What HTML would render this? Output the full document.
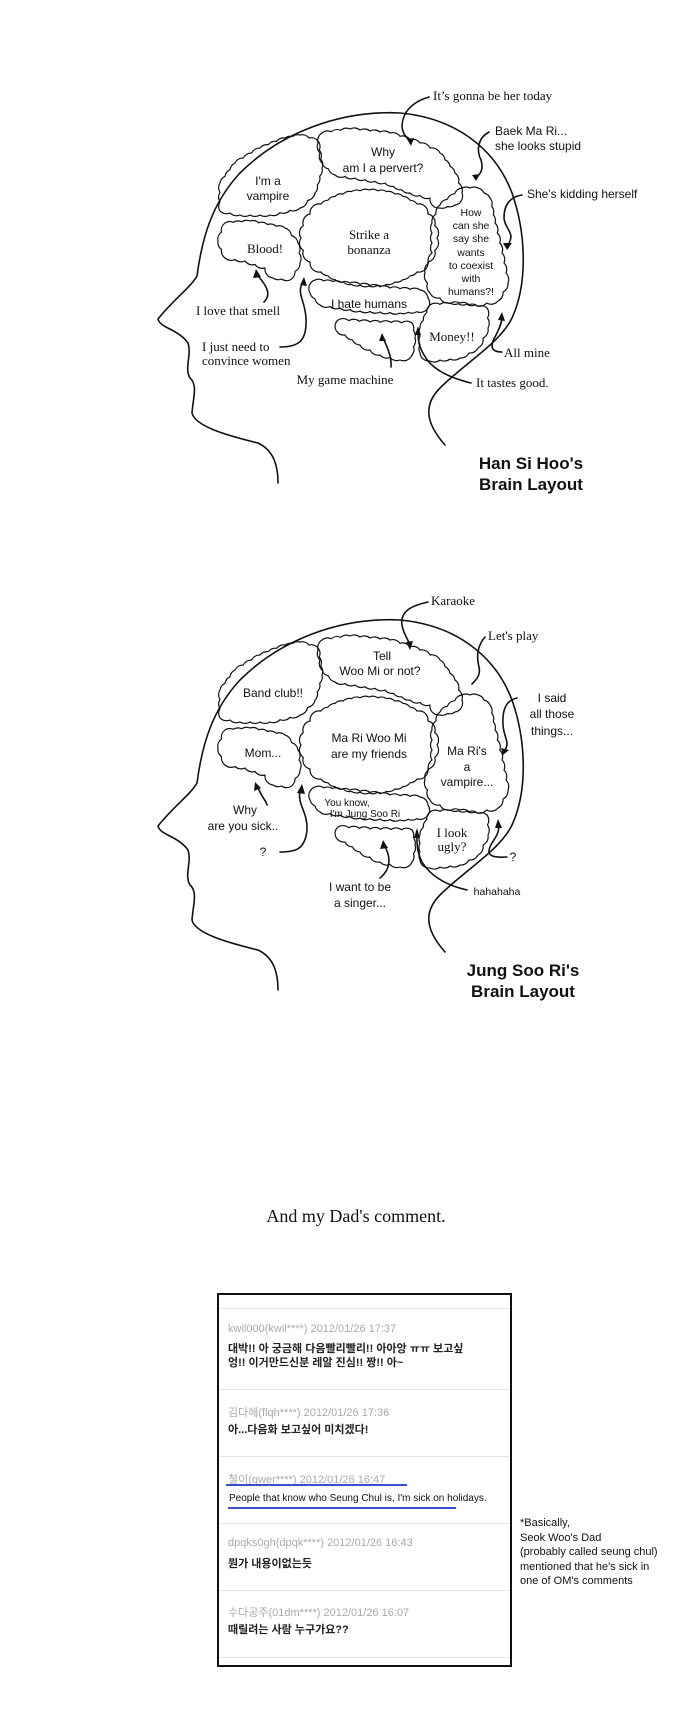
<!DOCTYPE html>
<html><head><meta charset="utf-8"><style>
html,body{margin:0;padding:0;background:#fff;}
body{width:690px;height:1719px;position:relative;overflow:hidden;}
svg{position:absolute;left:0;top:0;}
.s{font-family:"Liberation Serif",serif;font-size:13px;fill:#111;}
.c{font-family:"Liberation Sans",sans-serif;font-size:12px;fill:#111;}
.t{font-family:"Liberation Sans",sans-serif;font-size:17px;font-weight:bold;fill:#111;}
.box{position:absolute;left:217px;top:1293px;width:291px;height:370px;border:2px solid #111;background:#fff;}
.sep{position:absolute;left:0;width:291px;height:1px;background:#e6e6e6;}
.m{position:absolute;left:9px;font-family:"Liberation Sans","Noto Sans CJK KR",sans-serif;font-size:11px;color:#aaa;white-space:nowrap;}
.k{position:absolute;left:9px;font-family:"Liberation Sans","Noto Sans CJK KR",sans-serif;font-size:11px;color:#222;font-weight:bold;white-space:nowrap;line-height:14px;}
.bl{position:absolute;height:2px;background:#3a4fd0;}
.note{position:absolute;left:520px;top:1516px;font-family:"Liberation Sans",sans-serif;font-size:11px;line-height:14.5px;color:#111;white-space:nowrap;}
.cap{position:absolute;left:0;width:712px;text-align:center;top:1206px;font-family:"Liberation Serif",serif;font-size:18px;color:#111;}
</style></head><body>
<svg width="690" height="1719" viewBox="0 0 690 1719" xmlns="http://www.w3.org/2000/svg">
<defs>
<g id="brain" fill="none" stroke="#111" stroke-width="1.6" stroke-linecap="round" stroke-linejoin="round">
<path d="M445,952 C430,935 420,915 440,895 C465,870 500,850 512,825 C528,790 526,740 512,700 C495,655 455,625 400,620 C340,617 280,640 240,680 C212,710 202,745 197,783 C190,795 175,805 158,826 C160,835 178,836 188,850 C192,862 184,875 190,885 C198,892 193,905 192,920 C195,933 225,942 258,950 C275,958 278,975 278,990"/>
<g id="lobes" stroke-width="1.2"></g>
</g>
</defs>
<use href="#brain" transform="translate(0,-507)"/>
<use href="#brain"/>
<g fill="none" stroke="#111" stroke-width="1.6" stroke-linecap="round">
<path d="M428,602 C410,606 400,612 402,625 C404,637 410,640 410,648"/>
<path d="M485,637 C478,645 476,655 479,667 C481,675 476,680 472,684"/>
<path d="M517,698 C507,700 502,708 503,725 C504,738 510,742 505,750"/>
<path d="M267,805 C266,800 260,795 258,787"/>
<path d="M280,852 C295,852 305,850 307,830 C308,812 297,805 300,790"/>
<path d="M380,878 C390,870 392,858 384,845"/>
<path d="M467,890 C445,885 430,875 422,862 C416,850 417,840 417,832"/>
<path d="M507,857 C490,858 485,855 492,843 C498,834 500,830 498,822"/>
<path d="M429,97 C412,102 403,112 402,125 C402,135 408,138 411,143"/>
<path d="M489,132 C478,138 476,150 481,160 C484,170 480,174 476,178"/>
<path d="M522,195 C510,197 504,205 504,218 C505,230 516,232 508,245"/>
<path d="M264,302 C272,294 266,285 258,276"/>
<path d="M280,347 C300,347 307,340 306,318 C305,300 296,293 303,282"/>
<path d="M391,367 C392,358 388,348 383,338"/>
<path d="M471,383 C450,378 432,370 424,355 C418,345 418,338 418,330"/>
<path d="M502,352 C490,352 490,345 496,335 C500,327 502,322 502,317"/>
</g>
<g fill="#111">
<path d="M406,642 L410,650 L413,641 Z"/>
<path d="M501,748 L503,755 L509,750 Z"/>
<path d="M254,791 L255,782 L261,788 Z"/>
<path d="M297,793 L302,784 L305,794 Z"/>
<path d="M380,849 L383,840 L388,848 Z"/>
<path d="M414,838 L417,828 L420,838 Z"/>
<path d="M495,828 L498,819 L502,828 Z"/>
<path d="M407,139 L411,146 L414,138 Z"/><path d="M472,175 L476,181 L480,174 Z"/>
<path d="M503,243 L507,250 L512,243 Z"/><path d="M253,278 L256,269 L261,277 Z"/>
<path d="M300,285 L304,277 L307,286 Z"/><path d="M379,341 L382,333 L386,341 Z"/>
<path d="M415,335 L418,326 L421,335 Z"/><path d="M498,320 L502,312 L505,321 Z"/>
</g>
<text class="s" x="433" y="100">It’s gonna be her today</text>
<text class="c" x="495" y="135">Baek Ma Ri...</text>
<text class="c" x="495" y="150">she looks stupid</text>
<text class="c" x="527" y="198">She's kidding herself</text>
<g text-anchor="middle">
<text class="c" x="383" y="156">Why</text>
<text class="c" x="383" y="172">am I a pervert?</text>
<text class="c" x="268" y="185">I'm a</text>
<text class="c" x="268" y="200">vampire</text>
<text class="s" x="369" y="239">Strike a</text>
<text class="s" x="369" y="254">bonanza</text>
<text class="s" x="265" y="253">Blood!</text>
<text class="c" style="font-size:10.5px" x="471" y="216">How</text>
<text class="c" style="font-size:10.5px" x="471" y="229">can she</text>
<text class="c" style="font-size:10.5px" x="471" y="242">say she</text>
<text class="c" style="font-size:10.5px" x="471" y="256">wants</text>
<text class="c" style="font-size:10.5px" x="471" y="269">to coexist</text>
<text class="c" style="font-size:10.5px" x="471" y="282">with</text>
<text class="c" style="font-size:10.5px" x="471" y="295">humans?!</text>
<text class="c" x="369" y="308">I hate humans</text>
<text class="s" x="452" y="341">Money!!</text>
<text class="s" x="238" y="315">I love that smell</text>
<text class="s" x="345" y="384">My game machine</text>
<text class="t" x="531" y="469">Han Si Hoo's</text>
<text class="t" x="531" y="490">Brain Layout</text>
</g>
<text class="s" x="202" y="351">I just need to</text>
<text class="s" x="202" y="365">convince women</text>
<text class="s" x="504" y="357">All mine</text>
<text class="s" x="476" y="387">It tastes good.</text>
<text class="s" x="431" y="605">Karaoke</text>
<text class="s" x="488" y="640">Let's play</text>
<g text-anchor="middle">
<text class="c" x="382" y="660">Tell</text>
<text class="c" x="380" y="675">Woo Mi or not?</text>
<text class="c" x="273" y="697">Band club!!</text>
<text class="c" x="369" y="742">Ma Ri Woo Mi</text>
<text class="c" x="369" y="758">are my friends</text>
<text class="c" x="263" y="757">Mom...</text>
<text class="c" x="467" y="755">Ma Ri's</text>
<text class="c" x="467" y="771">a</text>
<text class="c" x="467" y="786">vampire...</text>
<text class="c" style="font-size:10px" x="347" y="806">You know,</text>
<text class="c" style="font-size:10px" x="365" y="817">I'm Jung Soo Ri</text>
<text class="s" x="452" y="837">I look</text>
<text class="s" x="452" y="851">ugly?</text>
<text class="c" x="552" y="702">I said</text>
<text class="c" x="552" y="718">all those</text>
<text class="c" x="552" y="735">things...</text>
<text class="c" x="245" y="814">Why</text>
<text class="c" x="243" y="830">are you sick..</text>
<text class="c" x="263" y="856">?</text>
<text class="c" x="513" y="861">?</text>
<text class="c" x="360" y="891">I want to be</text>
<text class="c" x="360" y="907">a singer...</text>
<text class="c" style="font-size:10.5px" x="497" y="895">hahahaha</text>
<text class="t" x="523" y="976">Jung Soo Ri's</text>
<text class="t" x="523" y="997">Brain Layout</text>
</g>
</svg>
<div class="cap">And my Dad's comment.</div>
<div class="box">
<div class="sep" style="top:13px"></div>
<div class="sep" style="top:94px"></div>
<div class="sep" style="top:161px"></div>
<div class="sep" style="top:228px"></div>
<div class="sep" style="top:295px"></div>
<div class="sep" style="top:362px"></div>
<div class="m" style="top:28px">kwil000(kwil****) 2012/01/26 17:37</div>
<div class="k" style="top:47px">대박!! 아 궁금해 다음빨리빨리!! 아아앙 ㅠㅠ 보고싶<br>엉!! 이거만드신분 레알 진심!! 짱!! 아~</div>
<div class="m" style="top:109px">김다헤(flqh****) 2012/01/26 17:36</div>
<div class="k" style="top:128px">아...다음화 보고싶어 미치겠다!</div>
<div class="m" style="top:176px">철이(qwer****) 2012/01/26 16:47</div>
<div class="bl" style="left:7px;top:189px;width:181px;"></div>
<div class="k" style="top:197px;left:10px;font-size:10px;font-weight:normal;color:#111">People that know who Seung Chul is, I'm sick on holidays.</div>
<div class="bl" style="left:9px;top:212px;width:228px;"></div>
<div class="m" style="top:242px">dpqks0gh(dpqk****) 2012/01/26 16:43</div>
<div class="k" style="top:262px">뭔가 내용이없는듯</div>
<div class="m" style="top:309px">수다공주(01dm****) 2012/01/26 16:07</div>
<div class="k" style="top:328px">때릴려는 사람 누구가요??</div>
</div>
<div class="note">*Basically,<br>Seok Woo's Dad<br>(probably called seung chul)<br>mentioned that he's sick in<br>one of OM's comments</div>
<script>
(function(){
var NS="http://www.w3.org/2000/svg";
var lobes=[
[[322,640],[350,636],[390,640],[420,650],[440,660],[455,680],[462,700],[455,712],[440,715],[430,705],[410,700],[385,690],[355,685],[335,682],[322,670],[318,650]],
[[300,642],[318,648],[322,675],[315,700],[300,715],[270,722],[240,722],[220,718],[220,690],[235,670],[260,655],[285,645]],
[[225,730],[250,728],[285,735],[298,750],[300,770],[290,787],[273,785],[265,775],[245,768],[225,765],[218,748]],
[[462,695],[478,695],[490,705],[495,730],[502,760],[508,790],[498,808],[475,812],[450,810],[430,800],[425,780],[432,760],[432,730],[440,712]],
[[315,787],[350,790],[390,795],[420,797],[428,805],[425,818],[400,820],[360,818],[320,812],[310,800]],
[[338,827],[370,829],[412,830],[415,845],[412,862],[400,867],[380,862],[360,852],[345,842],[335,833]],
[[430,812],[460,810],[487,815],[488,835],[478,855],[460,865],[430,868],[420,860],[420,835]]
];
var el=[];for(var i=0;i<24;i++){var a=i/24*Math.PI*2;el.push([369+68*Math.cos(a),745+48*Math.sin(a)]);}
lobes.push(el);
var g=document.getElementById("lobes");
lobes.forEach(function(p){
var d="M"+p[0][0]+","+p[0][1];
for(var i=0;i<p.length;i++){
var a=p[i],b=p[(i+1)%p.length];
var dx=b[0]-a[0],dy=b[1]-a[1],L=Math.sqrt(dx*dx+dy*dy);
var n=Math.max(1,Math.round(L/10));
for(var j=1;j<=n;j++){
var x=a[0]+dx*j/n,y=a[1]+dy*j/n;
d+=" A9,9 0 0,1 "+x.toFixed(1)+","+y.toFixed(1);
}}
d+="Z";
var path=document.createElementNS(NS,"path");path.setAttribute("d",d);g.appendChild(path);
});
})();
</script>
</body></html>
